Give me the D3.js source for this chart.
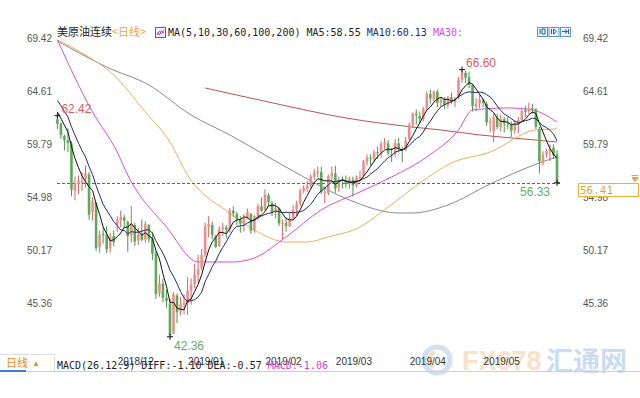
<!DOCTYPE html>
<html>
<head>
<meta charset="utf-8">
<script src="https://cdn.jsdelivr.net/npm/d3@7/dist/d3.min.js"></script>
<style>
  body { margin: 0; background: #fff; }
  svg { display: block; font-family: "Liberation Sans", Arial, sans-serif; }
</style>
</head>
<body>
<svg id="chart" width="640" height="398"></svg>
<script>
/* ── WTI continuous, daily candles, Nov 2018 – May 2019 ── */

const dates = [
  '2018-11-07','2018-11-08','2018-11-09','2018-11-12','2018-11-13','2018-11-14','2018-11-15','2018-11-16','2018-11-19','2018-11-20','2018-11-21','2018-11-23','2018-11-26','2018-11-27','2018-11-28','2018-11-29','2018-11-30',
  '2018-12-03','2018-12-04','2018-12-05','2018-12-06','2018-12-07','2018-12-10','2018-12-11','2018-12-12','2018-12-13','2018-12-14','2018-12-17','2018-12-18','2018-12-19','2018-12-20','2018-12-21','2018-12-24','2018-12-26','2018-12-27','2018-12-28','2018-12-31',
  '2019-01-02','2019-01-03','2019-01-04','2019-01-07','2019-01-08','2019-01-09','2019-01-10','2019-01-11','2019-01-14','2019-01-15','2019-01-16','2019-01-17','2019-01-18','2019-01-21','2019-01-22','2019-01-23','2019-01-24','2019-01-25','2019-01-28','2019-01-29','2019-01-30','2019-01-31',
  '2019-02-01','2019-02-04','2019-02-05','2019-02-06','2019-02-07','2019-02-08','2019-02-11','2019-02-12','2019-02-13','2019-02-14','2019-02-15','2019-02-18','2019-02-19','2019-02-20','2019-02-21','2019-02-22','2019-02-25','2019-02-26','2019-02-27','2019-02-28',
  '2019-03-01','2019-03-04','2019-03-05','2019-03-06','2019-03-07','2019-03-08','2019-03-11','2019-03-12','2019-03-13','2019-03-14','2019-03-15','2019-03-18','2019-03-19','2019-03-20','2019-03-21','2019-03-22','2019-03-25','2019-03-26','2019-03-27','2019-03-28','2019-03-29',
  '2019-04-01','2019-04-02','2019-04-03','2019-04-04','2019-04-05','2019-04-08','2019-04-09','2019-04-10','2019-04-11','2019-04-12','2019-04-15','2019-04-16','2019-04-17','2019-04-18','2019-04-22','2019-04-23','2019-04-24','2019-04-25','2019-04-26','2019-04-29','2019-04-30',
  '2019-05-01','2019-05-02','2019-05-03','2019-05-06','2019-05-07','2019-05-08','2019-05-09','2019-05-10','2019-05-13','2019-05-14','2019-05-15','2019-05-16','2019-05-17','2019-05-20','2019-05-21','2019-05-22','2019-05-23','2019-05-24','2019-05-27','2019-05-28','2019-05-29','2019-05-30'
];

const opens = [
  62.10,61.70,60.60,60.20,59.90,55.60,56.20,56.30,56.70,57.10,53.70,54.50,50.50,51.70,51.60,50.40,51.50,
  52.50,52.90,53.20,52.80,51.60,52.50,51.10,51.70,51.20,52.50,51.30,49.90,46.30,47.20,45.90,45.40,42.70,46.10,44.70,45.40,
  45.40,46.50,47.10,48.00,48.60,49.80,52.30,52.50,51.40,50.60,52.10,52.30,52.10,53.80,53.50,53.00,52.60,53.10,53.50,52.00,53.30,54.20,
  53.90,55.20,54.50,53.70,54.00,52.60,52.70,52.40,53.10,53.90,54.40,55.60,55.80,56.10,56.90,57.20,57.30,55.40,55.40,56.90,
  57.20,55.90,56.60,56.50,56.20,56.60,56.10,56.80,57.00,58.20,58.60,58.50,59.10,59.10,59.80,59.90,58.90,58.90,59.90,59.40,59.30,
  60.30,61.60,62.60,62.40,62.10,63.10,64.40,63.90,64.60,63.60,63.90,63.40,64.10,63.70,64.10,65.70,66.30,65.90,65.20,63.30,63.50,
  63.80,63.50,61.80,61.00,62.20,61.40,62.10,61.70,61.60,61.10,61.70,62.00,62.90,62.80,63.10,63.00,61.20,58.10,58.90,59.20,59.50,58.90
];
const highs = [
  62.42,61.80,60.70,61.28,60.10,56.90,57.00,57.30,57.90,57.30,55.00,54.60,52.00,52.30,52.40,51.80,52.00,
  53.30,53.80,53.40,52.90,54.22,52.70,52.25,53.00,52.85,52.60,51.90,50.20,48.00,47.60,46.60,45.80,46.40,46.30,46.00,46.20,
  47.78,47.65,49.00,49.79,50.31,52.70,53.31,52.80,51.60,52.40,52.70,52.50,54.04,54.20,53.70,53.30,53.50,54.00,53.60,53.40,54.40,55.00,
  55.75,55.40,54.70,54.50,54.10,53.00,53.20,53.60,54.30,54.70,55.80,56.10,56.50,57.10,57.60,57.80,57.80,56.00,57.10,57.80,
  57.88,56.90,56.90,57.00,56.90,56.90,57.00,57.40,58.40,58.90,58.90,59.30,59.60,60.10,60.40,60.20,59.50,60.30,60.40,59.60,60.50,
  61.80,62.70,63.00,62.80,63.20,64.60,64.79,64.70,64.80,64.10,64.10,64.20,64.50,64.10,65.92,66.60,66.50,66.40,65.30,64.00,64.30,
  64.00,63.70,62.20,62.60,62.60,62.50,62.30,62.30,61.90,62.00,62.30,63.00,63.30,63.60,63.50,63.10,61.40,59.20,59.40,59.80,59.80,59.30
];
const lows = [
  61.20,60.30,59.26,59.10,55.10,54.75,55.30,55.60,55.90,52.95,52.90,50.15,50.00,50.80,49.95,50.00,50.60,
  51.90,52.30,52.30,50.08,50.90,50.60,50.70,51.00,50.90,50.90,49.30,45.79,46.00,45.50,45.00,42.36,42.60,43.60,44.30,44.40,
  44.35,45.25,46.75,47.20,48.40,49.60,51.40,51.20,50.40,50.50,51.50,51.30,51.80,53.20,52.50,51.80,51.90,53.00,51.70,51.80,53.00,53.70,
  53.80,54.20,53.30,53.10,52.40,51.23,51.90,52.30,53.00,53.30,54.20,55.40,55.50,55.90,56.60,56.80,55.30,54.50,55.20,56.50,
  55.42,55.50,55.80,55.90,55.80,55.07,55.90,56.30,56.80,57.90,57.90,58.20,58.50,58.60,59.40,58.80,58.20,58.70,59.10,58.20,59.20,
  60.20,61.30,61.60,61.70,61.90,62.90,63.50,63.70,63.20,63.20,63.00,63.10,63.50,63.20,63.90,65.40,65.40,64.90,62.80,62.80,63.10,
  63.20,61.50,60.90,60.00,61.20,61.00,60.90,61.20,60.50,60.80,60.80,61.90,62.30,62.60,62.60,61.20,57.20,57.90,58.60,58.30,58.50,56.33
];
const closes = [
  61.67,60.67,60.19,59.93,55.69,56.25,56.46,56.46,57.20,53.43,54.63,50.42,51.63,51.56,50.29,51.45,50.93,
  52.95,53.25,52.89,51.49,52.61,51.00,51.65,51.15,52.58,51.20,49.88,46.24,47.20,45.88,45.59,42.53,46.22,44.61,45.33,45.41,
  46.54,47.09,47.96,48.52,49.78,52.36,52.59,51.59,50.51,52.11,52.31,52.07,53.80,53.55,53.01,52.62,53.13,53.69,51.99,53.31,54.23,53.79,
  55.26,54.56,53.66,54.01,52.64,52.72,52.41,53.10,53.90,54.41,55.59,55.85,56.09,56.92,57.26,57.36,55.48,55.50,56.94,57.22,
  55.80,56.59,56.56,56.22,56.66,56.07,56.79,56.87,58.26,58.61,58.52,59.09,59.03,59.83,59.98,59.04,58.82,59.94,59.41,59.30,60.14,
  61.59,62.58,62.46,62.10,63.08,64.40,63.98,64.61,63.58,63.89,63.40,64.05,63.76,64.00,65.70,66.30,65.89,65.21,63.30,63.50,63.91,
  63.60,61.81,61.94,62.25,61.40,62.12,61.70,61.66,61.04,61.78,62.02,62.87,62.76,63.10,62.99,61.42,58.27,58.90,59.20,59.40,58.85,56.41
];

// closes before the first visible candle, only used to start MA5 / MA10
const priorCloses = [65.5, 65.3, 64.9, 64.6, 63.9, 63.7, 63.1, 63.1, 62.2];

// long moving averages: [candle index, value]
const ma30Pts = [[0,69.28],[10,62.75],[17,59.12],[20,57.03],[31,52.32],[40,49.15],[50,49.15],[56,49.51],[65,51.42],[75,53.87],[86,55.50],[95,56.86],[105,58.67],[114,61.12],[118,62.94],[128,63.12],[135,62.94],[142,61.85]];
const ma60Pts = [[0,69.28],[7,68.10],[16,66.11],[25,62.75],[32,60.03],[37,57.03],[49,53.59],[57,51.87],[65,50.96],[71,50.96],[77,51.42],[86,52.32],[93,53.87],[103,56.31],[112,58.13],[123,59.12],[136,61.12],[142,61.21]];
const ma100Pts = [[0,69.20],[14,66.83],[26,65.20],[38,62.48],[49,60.67],[58,59.03],[70,56.86],[83,54.77],[97,53.59],[101,53.59],[111,54.32],[123,56.22],[137,58.13],[142,58.67]];
const ma200Pts = [[42,64.93],[60,63.66],[82,62.21],[101,61.39],[109,61.12],[120,60.67],[136,60.21],[142,60.03]];

const yTicks = [69.42, 64.61, 59.79, 54.98, 50.17, 45.36];
const monthStarts = ['2018-12-03','2019-01-02','2019-02-01','2019-03-01','2019-04-01','2019-05-01'];
const monthLabels = ['2018/12','2019/01','2019/02','2019/03','2019/04','2019/05'];

const extremes = [
  { i: 0,   kind: 'high' },
  { i: 32,  kind: 'low'  },
  { i: 115, kind: 'high' },
  { i: 142, kind: 'low'  }
];
const lastPrice = 56.41;

const legendMain = 'MA(5,10,30,60,100,200) MA5:58.55';
const legendMa10 = ' MA10:60.13';
const legendMa30 = ' MA30:';
const macdMain = 'MACD(26.12.9) DIFF:-1.10 DEA:-0.57 ';
const macdVal = 'MACD:-1.06';

/* ── colours ── */
const UP = '#e8918c', UP_WICK = '#d9625d';
const DOWN = '#5daa5a', DOWN_WICK = '#4a9747';
const MA_COLORS = { ma5: '#111', ma10: '#1e2b6e', ma30: '#dc4bdc', ma60: '#f0ac5c', ma100: '#8a8a8a', ma200: '#b8544f' };
const MONO = '"DejaVu Sans Mono","Liberation Mono",monospace';
const CJK = '"Noto Sans CJK SC","Noto Sans",sans-serif';

const svg = d3.select('#chart');

/* ── scales ── */
const x = d3.scalePoint().domain(dates).range([57.4, 557]);
const y = d3.scaleLinear().domain([42.36, 69.42]).range([336.8, 38.5]);
const xi = i => x(dates[i]);

/* ── watermark ── */
const wm = svg.append('g').attr('opacity', 0.45);
wm.append('circle').attr('cx', 437).attr('cy', 360).attr('r', 13)
  .attr('fill', 'none').attr('stroke', '#9fc0e4').attr('stroke-width', 5);
wm.append('path').attr('d', d3.arc()({ innerRadius: 6, outerRadius: 10, startAngle: 3.6, endAngle: 6.0 }))
  .attr('transform', 'translate(437,360)').attr('fill', '#f2b07a');
wm.append('text').attr('x', 462).attr('y', 370).attr('font-size', 27).attr('font-weight', 'bold')
  .attr('fill', '#f4b98a').text('FX678');
wm.append('text').attr('x', 546).attr('y', 371).attr('font-size', 27).attr('font-weight', 'bold')
  .attr('font-family', CJK).attr('fill', '#8fb3de').text('汇通网');

/* ── axes ── */
svg.append('g').attr('transform', 'translate(55,0)')
  .attr('font-family', '"Liberation Sans", Arial, sans-serif').attr('font-size', 11)
  .call(d3.axisLeft(y).tickValues(yTicks).tickSize(0).tickPadding(3).tickFormat(d3.format('.2f')))
  .call(g => g.select('.domain').remove())
  .call(g => g.selectAll('text').attr('fill', '#555'));

svg.append('g').attr('transform', 'translate(580,0)')
  .attr('font-family', '"Liberation Sans", Arial, sans-serif').attr('font-size', 11)
  .call(d3.axisRight(y).tickValues(yTicks).tickSize(0).tickPadding(3).tickFormat(d3.format('.2f')))
  .call(g => g.select('.domain').remove())
  .call(g => g.selectAll('text').attr('fill', '#555'));

/* ── long moving averages ── */
const ptLine = d3.line().x(p => xi(p[0])).y(p => y(p[1])).curve(d3.curveMonotoneX);
[['ma200', ma200Pts], ['ma100', ma100Pts], ['ma60', ma60Pts], ['ma30', ma30Pts]].forEach(([k, pts]) => {
  svg.append('path').attr('d', ptLine(pts))
    .attr('fill', 'none').attr('stroke', MA_COLORS[k]).attr('stroke-width', 1);
});

/* ── last price dashed line ── */
svg.append('line')
  .attr('x1', 57).attr('x2', 560)
  .attr('y1', Math.round(y(lastPrice)) + 1.5).attr('y2', Math.round(y(lastPrice)) + 1.5)
  .attr('stroke', '#2f6eb0').attr('stroke-dasharray', '3,2');

/* ── candles ── */
const candles = dates.map((d, i) => ({ d, i, o: opens[i], h: highs[i], l: lows[i], c: closes[i] }));
const cg = svg.append('g');
cg.selectAll('line.wick').data(candles).join('line')
  .attr('class', 'wick')
  .attr('x1', d => xi(d.i)).attr('x2', d => xi(d.i))
  .attr('y1', d => y(d.h)).attr('y2', d => y(d.l))
  .attr('stroke', d => d.c >= d.o ? UP_WICK : DOWN_WICK).attr('stroke-width', 1);
cg.selectAll('rect.body').data(candles).join('rect')
  .attr('class', 'body')
  .attr('x', d => xi(d.i) - 1.3).attr('width', 2.6)
  .attr('y', d => y(Math.max(d.o, d.c)))
  .attr('height', d => Math.max(1, Math.abs(y(d.o) - y(d.c))))
  .attr('fill', d => d.c >= d.o ? UP : DOWN);

/* ── short moving averages from closes ── */
function movingAvg(n) {
  const all = priorCloses.concat(closes);
  const off = priorCloses.length;
  return closes.map((_, i) => d3.mean(all.slice(off + i - n + 1, off + i + 1)));
}
const idxLine = d3.line().x((v, i) => xi(i)).y(v => y(v));
[['ma10', movingAvg(10)], ['ma5', movingAvg(5)]].forEach(([k, vals]) => {
  svg.append('path').attr('d', idxLine(vals))
    .attr('fill', 'none').attr('stroke', MA_COLORS[k]).attr('stroke-width', 1);
});

/* ── high / low markers ── */
extremes.forEach(e => {
  const v = e.kind === 'high' ? highs[e.i] : lows[e.i];
  const cx = xi(e.i), cy = y(v);
  svg.append('path').attr('d', `M${cx - 3},${cy}H${cx + 3}M${cx},${cy - 3}V${cy + 3}`)
    .attr('stroke', '#111').attr('stroke-width', 1);
  const nearRight = cx > 540;
  svg.append('text')
    .attr('x', nearRight ? cx - 7 : cx + 4)
    .attr('y', e.kind === 'high' ? cy - 7 : cy + 9)
    .attr('dy', '0.35em')
    .attr('text-anchor', nearRight ? 'end' : 'start')
    .attr('font-size', 12)
    .attr('fill', e.kind === 'high' ? '#d9605a' : '#6aab67')
    .text(d3.format('.2f')(v));
});

/* ── last price box ── */
const by = Math.round(y(lastPrice)) + 1.5;
svg.append('rect').attr('x', 578.5).attr('y', by).attr('width', 60).attr('height', 13)
  .attr('fill', '#fff').attr('stroke', '#efb233');
svg.append('text').attr('x', 580).attr('y', by + 7).attr('dy', '0.35em')
  .attr('font-family', MONO).attr('font-size', 11).attr('fill', '#eea22a')
  .text(d3.format('.2f')(lastPrice));
svg.append('path').attr('d', `M631.5,${by - 8}H638.5M632,${by - 6}L638,${by - 6}L635,${by - 2}Z`)
  .attr('stroke', '#eea22a').attr('fill', '#eea22a').attr('stroke-width', 1);

/* ── date axis ── */
svg.append('g').attr('transform', 'translate(0,361)')
  .attr('font-family', '"Liberation Sans", Arial, sans-serif').attr('font-size', 11)
  .call(d3.axisBottom(x).tickValues(monthStarts).tickSize(0).tickPadding(0).tickFormat((d, i) => monthLabels[i]))
  .call(g => g.select('.domain').remove())
  .call(g => g.selectAll('text').attr('y', 0).attr('dy', '0.35em').attr('text-anchor', 'start').attr('fill', '#333'));

/* ── bottom bar ── */
svg.append('line').attr('x1', 0).attr('x2', 55).attr('y1', 354.5).attr('y2', 354.5).attr('stroke', '#ddd');
svg.append('line').attr('x1', 54.5).attr('x2', 54.5).attr('y1', 354).attr('y2', 371).attr('stroke', '#ddd');
svg.append('line').attr('x1', 0).attr('x2', 640).attr('y1', 371.5).attr('y2', 371.5).attr('stroke', '#cfcfcf');
svg.append('line').attr('x1', 0).attr('x2', 26).attr('y1', 371).attr('y2', 371).attr('stroke', '#3b7dd8').attr('stroke-width', 2);
svg.append('text').attr('x', 6).attr('y', 363).attr('dy', '0.35em')
  .attr('font-family', CJK).attr('font-size', 11).attr('fill', '#e38b1c').text('日线');
svg.append('text').attr('x', 32).attr('y', 363).attr('dy', '0.35em')
  .attr('font-size', 8).attr('fill', '#e38b1c').text('▲');

const macd = svg.append('text').attr('x', 57).attr('y', 365).attr('dy', '0.35em')
  .attr('font-family', MONO).attr('font-size', 10).attr('fill', '#222');
macd.append('tspan').text(macdMain);
macd.append('tspan').attr('fill', '#d040d0').text(macdVal);

/* ── title / legend ── */
const title = svg.append('text').attr('x', 57).attr('y', 32).attr('dy', '0.35em').attr('font-size', 11);
title.append('tspan').attr('font-family', CJK).attr('fill', '#222').text('美原油连续');
title.append('tspan').attr('font-family', CJK).attr('fill', '#eba447').text('<日线>');

const ic = svg.append('g').attr('transform', 'translate(155,27)');
ic.append('rect').attr('x', 0.5).attr('y', 0.5).attr('width', 10).attr('height', 10)
  .attr('fill', '#f1ecf8').attr('stroke', '#6c5a98');
ic.append('path').attr('d', 'M2,8L4.5,4L6.5,7L9,3').attr('fill', 'none').attr('stroke', '#d54bd5');
ic.append('path').attr('d', 'M2,6L4.5,7.5L6.5,4L9,6').attr('fill', 'none').attr('stroke', '#4a6fc0');

const legend = svg.append('text').attr('x', 168).attr('y', 32).attr('dy', '0.35em')
  .attr('font-family', MONO).attr('font-size', 10);
legend.append('tspan').attr('fill', '#222').text(legendMain);
legend.append('tspan').attr('fill', MA_COLORS.ma10).text(legendMa10);
legend.append('tspan').attr('fill', MA_COLORS.ma30).text(legendMa30);

/* ── toolbar icons ── */
const glyphs = ['M3,2V7M5,2H8V7H5Z', 'M3,2V7M5,2L8,4.5L5,7Z', 'M2,4.5H7M5,2.5L7.5,4.5L5,6.5M8.5,2V7'];
glyphs.forEach((gd, k) => {
  const g = svg.append('g').attr('transform', `translate(${537 + k * 11.5},27)`);
  g.append('rect').attr('x', 0.5).attr('y', 0.5).attr('width', 10).attr('height', 9)
    .attr('fill', '#eaf3fc').attr('stroke', '#5d95cc');
  g.append('path').attr('d', gd).attr('fill', 'none').attr('stroke', '#2f5f9a');
});
</script>
</body>
</html>
